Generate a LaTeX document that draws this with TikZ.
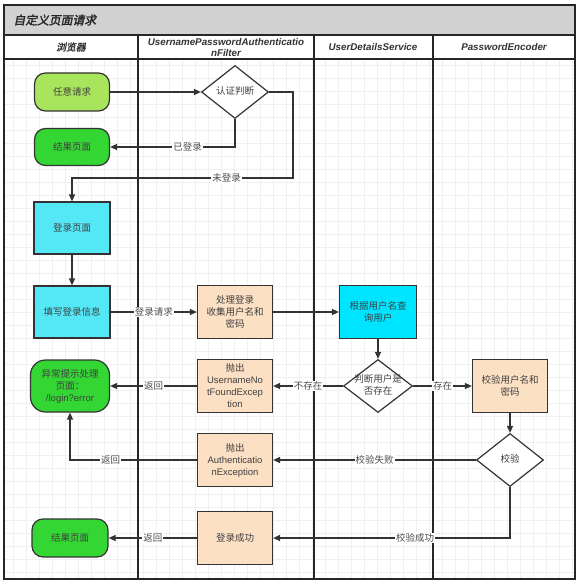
\documentclass[tikz,border=0pt]{standalone}
\usepackage{fontspec}
\setmainfont{Liberation Sans}
\newfontfamily\cjk{Noto Sans CJK SC}[AutoFakeBold=2,AutoFakeSlant=0.2]
\usetikzlibrary{shapes.geometric,arrows.meta}
\definecolor{lgreen}{RGB}{168,228,92}
\definecolor{dgreen}{RGB}{52,214,52}
\definecolor{lcyan}{RGB}{84,232,246}
\definecolor{dcyan}{RGB}{0,229,255}
\definecolor{peach}{RGB}{252,224,196}
\definecolor{titlegray}{RGB}{210,210,210}
\newcommand\dtxt[1]{\smash{\raisebox{-2.5pt}{\makebox[0pt]{\begin{tabular}{@{}c@{}}#1\end{tabular}}}}}

\begin{document}
\begin{tikzpicture}[x=1pt, y=-1pt,
lane/.style={draw=black!85, line width=1.5pt},
head/.style={font=\bfseries\itshape\fontsize{9.8}{11}\selectfont, align=center, text=black!80},
proc/.style={draw=black!80, line width=1.2pt, minimum width=75pt, minimum height=53pt,
  inner sep=1pt, align=center, font=\cjk\fontsize{9.5}{12}\selectfont, text=black!75},
term/.style={proc, rounded corners=11pt, minimum height=38pt},
judge/.style={proc, diamond, minimum width=67pt, minimum height=53pt, inner sep=0pt, fill=white},
arr/.style={draw=black!80, line width=1.2pt, -{Triangle[length=7pt,width=6pt]}},
lbl/.style={fill=white, inner sep=1pt, font=\cjk\fontsize{9.5}{11}\selectfont, text=black!70}
]
\useasboundingbox (0,0) rectangle (583,588);
\fill[white] (0,0) rectangle (583,588);
\draw[gray!12, line width=0.4pt, step=13pt] (4,59) grid (575,579);

\fill[titlegray] (4,5) rectangle (575,35);
\draw[lane] (4,5) rectangle (575,579);
\draw[lane] (4,35) -- (575,35);
\draw[lane] (4,59) -- (575,59);
\foreach \x in {138,314,433}
    \draw[lane] (\x,35) -- (\x,579);

\node[anchor=west, font=\cjk\bfseries\itshape\fontsize{11.8}{13}\selectfont, text=black!85] (title) at (10,20) {自定义页面请求};
\node[head] (browser) at (71,47) {{\cjk 浏览器}};
\node[head] (filter) at (226,47) {UsernamePasswordAuthenticatio\\nFilter};
\node[head] (uds) at (373,47) {UserDetailsService};
\node[head] (encoder) at (504,47) {PasswordEncoder};

\node[term, fill=lgreen] (any) at (72,92) {任意请求};
\node[judge] (auth) at (235,92) {\dtxt{认证判断}};
\node[term, fill=dgreen, minimum height=37pt] (res1) at (72,147) {结果页面};
\node[proc, fill=lcyan, minimum width=76pt, minimum height=52pt] (loginpage) at (72,228) {登录页面};
\node[proc, fill=lcyan, minimum width=76pt, minimum height=52pt] (input) at (72,312) {填写登录信息};
\node[term, fill=dgreen, minimum width=79pt, minimum height=52pt, rounded corners=15pt] (errpage) at (70,386)
    {异常提示处理\\页面：\\{\rmfamily /login?error}};
\node[proc, fill=peach] (handle) at (235,312) {处理登录\\收集用户名和\\密码};
\node[proc, fill=dcyan, minimum width=77pt] (query) at (378,312) {根据用户名查\\询用户};
\node[judge, minimum width=69pt] (exist) at (378,386) {\dtxt{判断用户是\\否存在}};
\node[proc, fill=peach] (unfe) at (235,386)
    {抛出\\{\rmfamily UsernameNo}\\{\rmfamily tFoundExcep}\\{\rmfamily tion}};
\node[proc, fill=peach] (check) at (510,386) {校验用户名和\\密码};
\node[judge] (verify) at (510,460) {\dtxt{校验}};
\node[proc, fill=peach] (authex) at (235,460)
    {抛出\\{\rmfamily Authenticatio}\\{\rmfamily nException}};
\node[proc, fill=peach] (ok) at (235,538) {登录成功};
\node[term, fill=dgreen, minimum width=76pt] (res2) at (70,538) {结果页面};

\coordinate (turn) at (293,178);

\draw[arr] (any) -- (auth);
\draw[arr] (auth.south) |- node[lbl, pos=0.69] {已登录} (res1);
\draw[arr] (auth.east) -| (turn) -| node[lbl, pos=0.15] {未登录} (loginpage.north);
\draw[arr] (loginpage) -- (input);
\draw[arr] (input) -- node[lbl] {登录请求} (handle);
\draw[arr] (handle) -- (query);
\draw[arr] (query) -- (exist);
\draw[arr] (exist) -- node[lbl] {不存在} (unfe);
\draw[arr] (unfe) -- node[lbl] {返回} (errpage);
\draw[arr] (exist) -- node[lbl] {存在} (check);
\draw[arr] (check) -- (verify);
\draw[arr] (verify) -- node[lbl] {校验失败} (authex);
\draw[arr] (authex) -| node[lbl, pos=0.34] {返回} (errpage);
\draw[arr] (ok) -- node[lbl] {返回} (res2);
\draw[arr] (verify) |- node[lbl, pos=0.7] {校验成功} (ok);
\end{tikzpicture}
\end{document}
